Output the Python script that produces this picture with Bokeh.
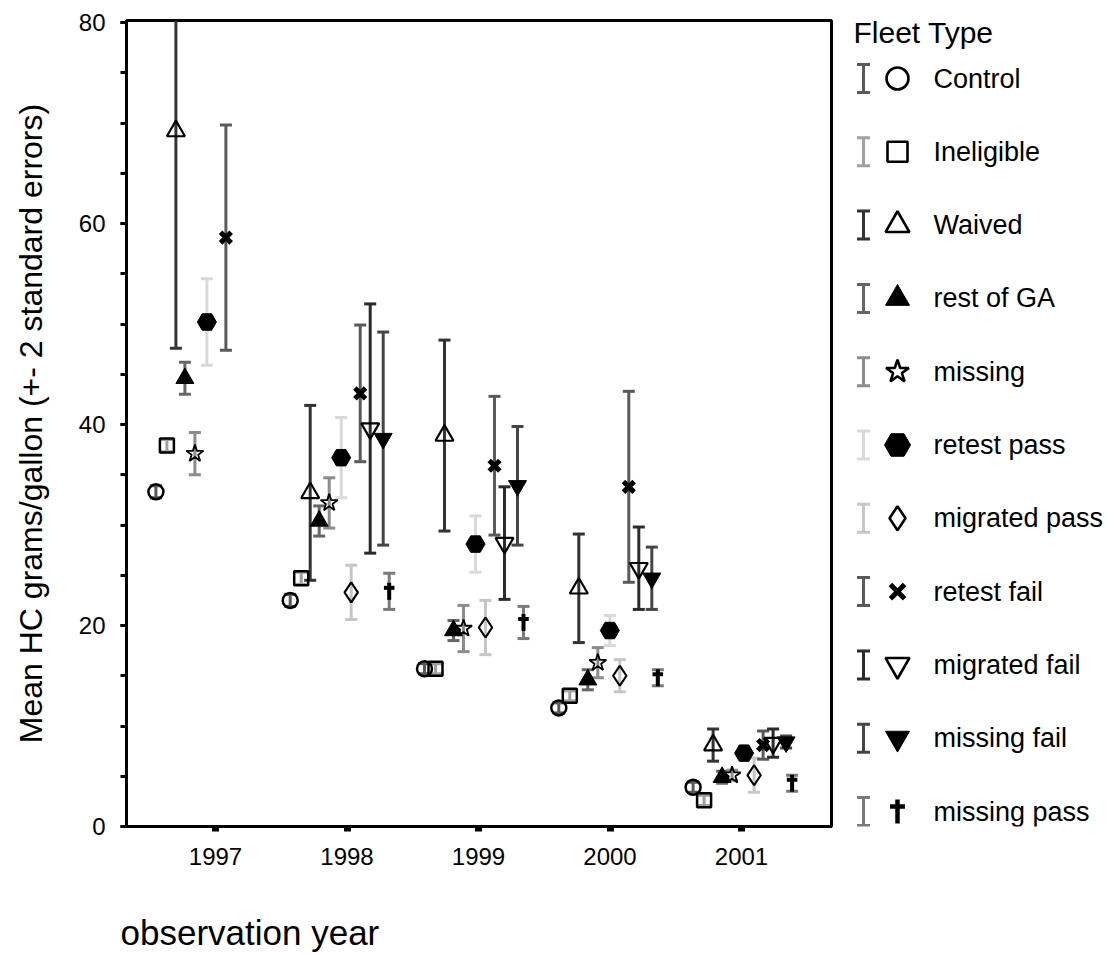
import math
from bokeh.plotting import figure
from bokeh.models import Range1d, FixedTicker, ColumnDataSource, Title
from bokeh.layouts import row
from bokeh.embed import file_html
from bokeh.resources import INLINE
from bokeh.core.properties import value

FONT = "Liberation Sans"

# ---------------- data ----------------
years = [1997, 1998, 1999, 2000, 2001]
fleet_types = ["Control", "Ineligible", "Waived", "rest of GA", "missing",
               "retest pass", "migrated pass", "retest fail", "migrated fail",
               "missing fail", "missing pass"]

# mean HC grams/gallon per year (None = no group that year)
mean_control = [33.3, 22.5, 15.7, 11.8, 3.9]
mean_ineligible = [37.9, 24.7, 15.7, 13.0, 2.6]
mean_waived = [69.2, 33.2, 38.9, 23.7, 8.1]
mean_rest_ga = [44.6, 30.4, 19.5, 14.6, 4.9]
mean_missing = [37.1, 32.2, 19.7, 16.3, 5.1]
mean_retest_pass = [50.2, 36.7, 28.1, 19.5, 7.3]
mean_migrated_pass = [None, 23.3, 19.8, 15.0, 5.1]
mean_retest_fail = [58.6, 43.1, 35.9, 33.8, 8.1]
mean_migrated_fail = [None, 39.6, 28.2, 25.7, 8.3]
mean_missing_fail = [None, 38.6, 33.9, 24.7, 8.4]
mean_missing_pass = [None, 23.4, 20.3, 14.8, 4.3]

# 2 standard errors
err_control = [0.6, 0.6, 0.5, 0.5, 0.5]
err_ineligible = [0.6, 0.6, 0.5, 0.5, 0.5]
err_waived = [21.6, 8.7, 9.5, 5.4, 1.6]
err_rest_ga = [1.6, 1.5, 1.0, 1.0, 0.6]
err_missing = [2.1, 2.5, 2.3, 1.5, 0.5]
err_retest_pass = [4.3, 4.0, 2.8, 1.5, 0.4]
err_migrated_pass = [None, 2.7, 2.7, 1.6, 1.7]
err_retest_fail = [11.2, 6.8, 6.9, 9.5, 1.4]
err_migrated_fail = [None, 12.4, 5.6, 4.1, 1.4]
err_missing_fail = [None, 10.6, 5.9, 3.1, 0.6]
err_missing_pass = [None, 1.8, 1.6, 0.8, 0.8]

y_ticks = [0, 20, 40, 60, 80]

means = [mean_control, mean_ineligible, mean_waived, mean_rest_ga, mean_missing,
         mean_retest_pass, mean_migrated_pass, mean_retest_fail, mean_migrated_fail,
         mean_missing_fail, mean_missing_pass]
errs = [err_control, err_ineligible, err_waived, err_rest_ga, err_missing,
        err_retest_pass, err_migrated_pass, err_retest_fail, err_migrated_fail,
        err_missing_fail, err_missing_pass]

# ---------------- styles ----------------
bar_colors = ["#5a5a5a", "#a0a0a0", "#333333", "#666666", "#8c8c8c", "#d9d9d9",
              "#c6c6c6", "#5a5a5a", "#2b2b2b", "#454545", "#7a7a7a"]
markers = ["circle", "square", "triangle", "triangle", "star", "hex", "diamond",
           "x", "inverted_triangle", "inverted_triangle", "dagger"]
filled = [False, False, False, True, False, True, False, True, False, True, True]
plot_sizes = [15, 14, 18, 18, 18, 19, 20, 15, 18, 18, 17]
legend_sizes = [22, 20, 24, 24, 24, 26, 24, 20, 24, 24, 24]
line_widths = [2.5, 2.5, 2.2, 1, 1.8, 1, 2.2, 5, 2.2, 1, 4]

PX_PER_YEAR = 131.5
CLUSTER_STEP = 134.3 / 131.5
offsets_px = [-54, -43, -34, -25, -15, -3, 7, 16, 26, 39, 45]

H = 955
W_MAIN = 841
FRAME_TOP, FRAME_BOTTOM = 20, 826
Y_MAX = 80.2
Y_PER_PX = Y_MAX / (FRAME_BOTTOM - FRAME_TOP)

p = figure(width=W_MAIN, height=H, output_backend="svg", toolbar_location=None,
           x_range=Range1d(1997 - 89 / PX_PER_YEAR, 2001 + 90 / PX_PER_YEAR),
           y_range=Range1d(0, Y_MAX),
           min_border_left=126, min_border_right=10, min_border_top=FRAME_TOP,
           min_border_bottom=H - FRAME_BOTTOM)
p.xgrid.visible = False
p.ygrid.visible = False
p.outline_line_color = "black"
p.outline_line_width = 3
p.background_fill_color = "white"
p.border_fill_color = "white"


def draw_dagger(fig, xs, ys, size, lw, dy):
    """Latin-cross marker: long vertical stroke plus a short bar near its top."""
    fig.scatter(x=xs, y=ys, marker="dash", angle=math.pi / 2, size=size,
                line_color="black", line_width=lw)
    fig.scatter(x=xs, y=[v + dy for v in ys], marker="dash", size=size * 0.62,
                line_color="black", line_width=lw)


# error bars first
series = []
for i, name in enumerate(fleet_types):
    xs, ys, lo, hi = [], [], [], []
    for yr, mv, ev in zip(years, means[i], errs[i]):
        if mv is None:
            continue
        xs.append(1999 + (yr - 1999) * CLUSTER_STEP + offsets_px[i] / PX_PER_YEAR)
        ys.append(mv)
        lo.append(mv - ev)
        hi.append(mv + ev)
    src = ColumnDataSource(dict(x=xs, y=ys, lo=lo, hi=hi))
    series.append(src)
    c = bar_colors[i]
    p.segment(x0="x", y0="lo", x1="x", y1="hi", source=src, line_color=c, line_width=3)
    p.scatter(x="x", y="lo", marker="dash", size=12, line_color=c, line_width=3, source=src)
    p.scatter(x="x", y="hi", marker="dash", size=12, line_color=c, line_width=3, source=src)

# markers on top
for i, src in enumerate(series):
    if markers[i] == "dagger":
        draw_dagger(p, list(src.data["x"]), list(src.data["y"]), plot_sizes[i],
                    line_widths[i], 3.5 * Y_PER_PX)
    else:
        p.scatter(x="x", y="y", marker=markers[i], size=plot_sizes[i], source=src,
                  line_color="black", line_width=line_widths[i],
                  fill_color="black", fill_alpha=1.0 if filled[i] else 0.0)

# axes
p.yaxis.ticker = FixedTicker(ticks=y_ticks, minor_ticks=list(range(0, 81, 5)))
p.yaxis.axis_line_width = 3
p.yaxis.major_tick_line_width = 3
p.yaxis.minor_tick_line_width = 3
p.yaxis.major_tick_out = 6
p.yaxis.major_tick_in = 0
p.yaxis.minor_tick_out = 6
p.yaxis.minor_tick_in = 0
p.yaxis.major_label_text_font = FONT
p.yaxis.major_label_text_font_size = "24px"
p.yaxis.major_label_text_color = "black"
p.yaxis.major_label_standoff = 15
p.yaxis.axis_label = "Mean HC grams/gallon (+- 2 standard errors)"
p.yaxis.axis_label_text_font = FONT
p.yaxis.axis_label_text_font_size = "32px"
p.yaxis.axis_label_text_font_style = "normal"
p.yaxis.axis_label_text_color = "black"
p.yaxis.axis_label_standoff = 27

p.xaxis.ticker = FixedTicker(ticks=years, minor_ticks=[])
p.xaxis.major_label_overrides = {y: str(y) for y in years}
p.xaxis.axis_line_width = 3
p.xaxis.major_tick_line_width = 7
p.xaxis.major_tick_out = 5
p.xaxis.major_tick_in = 0
p.xaxis.minor_tick_line_color = None
p.xaxis.major_label_text_font = FONT
p.xaxis.major_label_text_font_size = "24px"
p.xaxis.major_label_text_color = "black"
p.xaxis.major_label_standoff = 16
# a blank (no-break space) axis label keeps a gap between tick labels and the x title
p.xaxis.axis_label = "\u00a0"
p.xaxis.axis_label_text_font_size = "10px"
p.xaxis.axis_label_standoff = 29

x_title = Title(text="observation year", align="left", offset=-6,
                text_font=FONT, text_font_size="35px", text_font_style="normal",
                text_color="black")
try:
    x_title.standoff = 0
except Exception:
    pass
p.add_layout(x_title, "below")

# ---------------- legend panel ----------------
W_LEG = 1111 - W_MAIN
LEG_X0 = W_MAIN
leg = figure(width=W_LEG, height=H, output_backend="svg", toolbar_location=None,
             x_range=Range1d(LEG_X0, LEG_X0 + W_LEG),
             y_range=Range1d(FRAME_BOTTOM, FRAME_TOP),
             min_border_left=0, min_border_right=0,
             min_border_top=FRAME_TOP, min_border_bottom=H - FRAME_BOTTOM)
leg.axis.visible = False
leg.xgrid.visible = False
leg.ygrid.visible = False
leg.outline_line_color = None

n = len(fleet_types)
leg_y = [78 + 73.3 * i for i in range(n)]
icon_x = [863] * n
mark_x = [897] * n
text_x = [933] * n
lsrc = ColumnDataSource(dict(ix=icon_x, mx=mark_x, tx=text_x, y=leg_y,
                             y0=[v - 14 for v in leg_y], y1=[v + 14 for v in leg_y],
                             c=bar_colors, name=fleet_types))
leg.segment(x0="ix", y0="y0", x1="ix", y1="y1", line_color="c", line_width=3, source=lsrc)
leg.scatter(x="ix", y="y0", marker="dash", size=13, line_color="c", line_width=3, source=lsrc)
leg.scatter(x="ix", y="y1", marker="dash", size=13, line_color="c", line_width=3, source=lsrc)
for i in range(n):
    if markers[i] == "dagger":
        draw_dagger(leg, [mark_x[i]], [leg_y[i]], legend_sizes[i], 4.5, -5)
    else:
        lw = line_widths[i] if filled[i] else max(line_widths[i], 2.6)
        leg.scatter(x=[mark_x[i]], y=[leg_y[i]], marker=markers[i], size=legend_sizes[i],
                    line_color="black", line_width=lw,
                    fill_color="black", fill_alpha=1.0 if filled[i] else 0.0)
leg.text(x="tx", y="y", text="name", source=lsrc, text_font=value(FONT),
         text_font_size="27px", text_align="left", text_baseline="middle", text_color="black")
leg.text(x=[853], y=[32], text=["Fleet Type"], text_font=value(FONT), text_font_size="30px",
         text_align="left", text_baseline="middle", text_color="black")

layout = row(p, leg)
open("out.html", "w").write(file_html(layout, INLINE))
